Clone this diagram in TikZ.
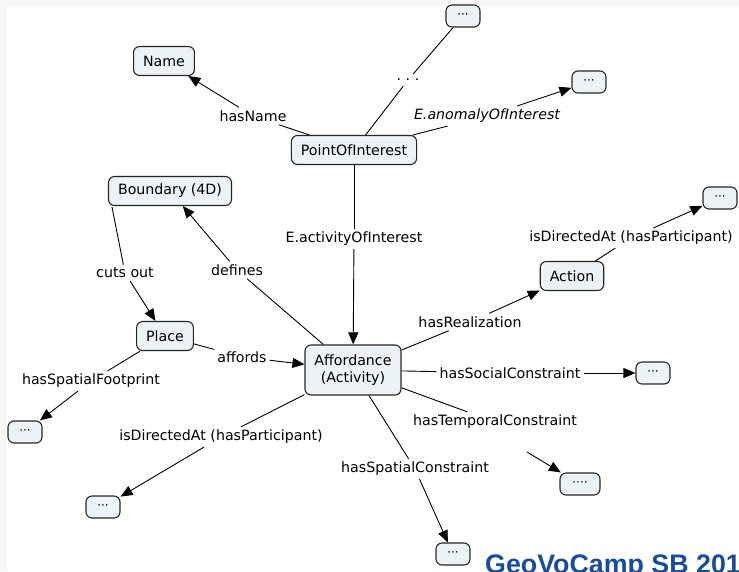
\documentclass[tikz,border=0pt]{standalone}
\usepackage{fontspec}
\setmainfont{DejaVu Sans}
\newfontfamily\titlefont{Liberation Sans}
\usetikzlibrary{arrows.meta}
\definecolor{cfill}{RGB}{236,243,246}
\definecolor{camp}{RGB}{24,76,156}
\tikzset{
  concept/.style={draw=black!85, fill=cfill, rounded corners=6pt, line width=1.1pt,
    inner xsep=9.5pt, inner ysep=4pt, minimum height=29pt, font=\fontsize{14.2}{17}\selectfont},
  more/.style={concept, minimum width=34pt, minimum height=22pt, inner sep=0pt, font=\fontsize{12}{14}\selectfont},
  rel/.style={font=\fontsize{14.2}{17}\selectfont, inner sep=3pt},
  link/.style={line width=0.9pt},
  arr/.style={link, -{Triangle[length=12pt,width=10pt]}}
}
\begin{document}
\begin{tikzpicture}[x=1pt,y=-1pt]
\useasboundingbox (0,0) rectangle (739,571);
\fill[gray!6] (0,0) rectangle (739,571);
\fill[white] (7,6) rectangle (739,571);

\node[concept] (name) at (164,61) {Name};
\node[concept] (poi) at (354,150) {PointOfInterest};
\node[concept] (bnd) at (170,191) {Boundary (4D)};
\node[concept] (action) at (572,276) {Action};
\node[concept] (place) at (165,336) {Place};
\node[concept, align=center, minimum height=50pt] (aff) at (353,370) {Affordance\\(Activity)};
\node[more] (mtop) at (463,16) {···};
\node[more] (manom) at (589,82) {···};
\node[more] (mact) at (720,198) {···};
\node[more] (msoc) at (653,373) {···};
\node[more] (mfoot) at (25,432) {···};
\node[more] (mdir) at (103,507) {···};
\node[more, minimum width=40pt] (mtemp) at (580,484) {····};
\node[more] (mspat) at (453,554) {···};

\node[rel] (hasname) at (253,116) {hasName};
\node[rel, inner sep=5pt] (etc) at (408,80) {.\,\,.\,\,.};
\node[rel] (anom) at (487,116) {\itshape E.anomalyOfInterest};
\node[rel] (activ) at (354,239) {E.activityOfInterest};
\node[rel] (dira) at (631,238) {isDirectedAt (hasParticipant)};
\node[rel] (cuts) at (125,273) {cuts out};
\node[rel] (defs) at (237,270) {defines};
\node[rel] (real) at (470,322) {hasRealization};
\node[rel] (affords) at (242,357) {affords};
\node[rel] (foot) at (91,381) {hasSpatialFootprint};
\node[rel] (soc) at (510,373) {hasSocialConstraint};
\node[rel] (dirb) at (221,437) {isDirectedAt (hasParticipant)};
\node[rel] (temp) at (495,422) {hasTemporalConstraint};
\node[rel] (spat) at (415,469) {hasSpatialConstraint};
\coordinate (bndfoot) at (112,207);
\coordinate (tempend) at (527,452);

\draw[link] (poi) -- (hasname);
\draw[arr] (hasname) -- (name);
\draw[link] (poi) -- (etc);
\draw[link] (etc) -- (mtop);
\draw[link] (poi) -- (anom);
\draw[arr] (anom) -- (manom);
\draw[link] (poi) -- (activ);
\draw[arr] (activ) -- (aff);
\draw[link] (bndfoot) -- (cuts);
\draw[arr] (cuts) -- (place);
\draw[link] (aff) -- (defs);
\draw[arr] (defs) -- (bnd);
\draw[link] (aff) -- (real);
\draw[arr] (real) -- (action);
\draw[link] (action) -- (dira);
\draw[arr] (dira) -- (mact);
\draw[link] (place) -- (affords);
\draw[arr] (affords) -- (aff);
\draw[link] (place) -- (foot);
\draw[arr] (foot) -- (mfoot);
\draw[link] (aff) -- (soc);
\draw[arr] (soc) -- (msoc);
\draw[link] (aff) -- (dirb);
\draw[arr] (dirb) -- (mdir);
\draw[link] (aff) -- (temp);
\draw[arr] (tempend) -- (mtemp);
\draw[link] (aff) -- (spat);
\draw[arr] (spat) -- (mspat);

\node[anchor=base west, inner sep=0pt, text=camp, font=\titlefont\bfseries\fontsize{26.8}{31}\selectfont] (camp) at (485,573) {GeoVoCamp SB 2012};
\end{tikzpicture}
\end{document}
